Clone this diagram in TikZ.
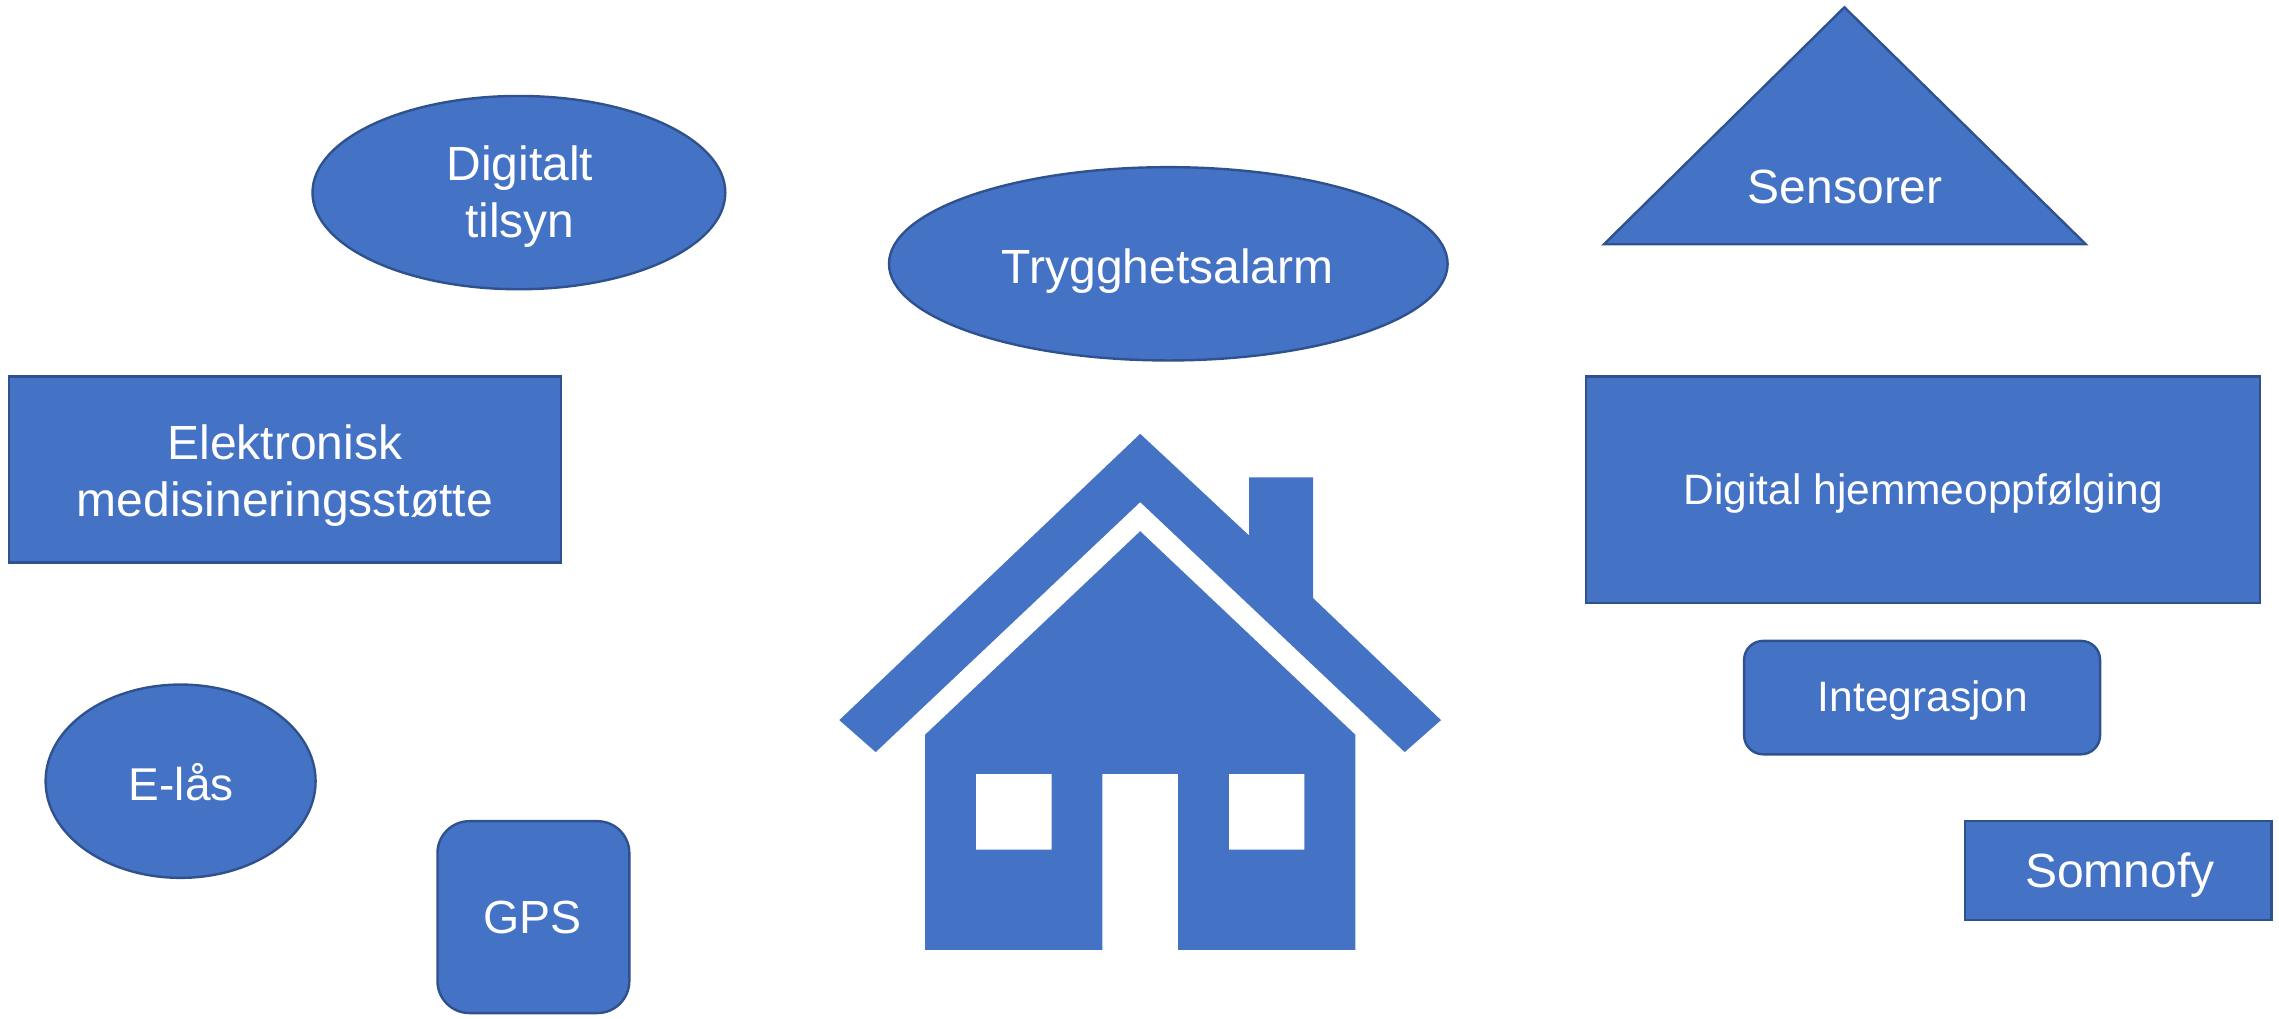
\documentclass[tikz,border=0pt]{standalone}
\usepackage{fontspec}
\setmainfont{Liberation Sans}
\usetikzlibrary{shapes.geometric}
\definecolor{shapefill}{HTML}{4472C4}
\definecolor{shapeline}{HTML}{2F528F}
\tikzset{
  shapebase/.style={draw=shapeline,fill=shapefill,line width=2.4pt,inner sep=0pt},
  oval/.style={shapebase,ellipse},
  box/.style={shapebase,rectangle},
  rbox/.style={shapebase,rectangle,rounded corners=#1},
  tri/.style={draw=shapeline,fill=shapefill,line width=2.4pt,line join=miter},
  caption/.style={text=white,inner sep=0pt,align=center,anchor=base,font=\fontsize{48}{57}\selectfont},
  smallcaption/.style={caption,font=\fontsize{42.5}{50}\selectfont},
  icon/.style={fill=shapefill,draw=none}
}
\begin{document}
\begin{tikzpicture}[x=1pt,y=-1pt]
\useasboundingbox (0,0) rectangle (2279,1018);
\node[oval,minimum width=412.8pt,minimum height=193.3pt] (tilsyn) at (518.9,192.6) {};
\node[oval,minimum width=558.6pt,minimum height=193.3pt] (alarm) at (1168.3,263.8) {};
\node[box,minimum width=552.3pt,minimum height=186pt] (medisin) at (284.9,469.4) {};
\node[box,minimum width=674.4pt,minimum height=226.7pt] (hjemme) at (1922.9,489.8) {};
\node[rbox=19pt,minimum width=356pt,minimum height=113.4pt] (integ) at (1922.1,697.6) {};
\node[box,minimum width=306.7pt,minimum height=98.8pt] (somno) at (2118.3,870.6) {};
\node[oval,minimum width=270pt,minimum height=193.3pt] (elas) at (180.6,781.2) {};
\node[rbox=32pt,minimum width=191.9pt,minimum height=191.9pt] (gps) at (533.4,917.1) {};
\draw[tri] (1844.4,7.3) -- (2085.7,244.2) -- (1604,244.2) -- cycle;
\node[caption] (ctilsyn) at (520,237.3) {Digitalt\\tilsyn};
\node[caption] (calarm) at (1167.8,283.3) {Trygghetsalarm};
\node[caption] (cmedisin) at (284.9,516) {Elektronisk\\medisineringsstøtte};
\node[caption] (csensor) at (1845.3,203.3) {Sensorer};
\node[smallcaption] (chjemme) at (1923.3,504) {Digital hjemmeoppfølging};
\node[smallcaption] (cinteg) at (1923,711.7) {Integrasjon};
\node[caption] (csomno) at (2119.7,887.3) {Somnofy};
\node[caption,font=\fontsize{46}{54}\selectfont] (celas) at (181.3,800) {E-lås};
\node[caption,font=\fontsize{46.5}{54}\selectfont] (cgps) at (532.8,933.3) {GPS};
% house icon
\begin{scope}[shift={(0.7,0.7)}]
\fill[icon] (1139.5,433.1) -- (1248.5,534.9) -- (1248.5,476.7) -- (1312.4,476.7) -- (1312.4,597.4)
  -- (1440.3,719.4) -- (1404,751.4) -- (1139.5,501.4) -- (875,751.4) -- (838.6,719.4) -- cycle;
\fill[icon,even odd rule] (1139.5,530.5) -- (1354.6,734) -- (1354.6,949.1) -- (1177.3,949.1) -- (1177.3,773.2)
  -- (1101.7,773.2) -- (1101.7,949.1) -- (924.4,949.1) -- (924.4,734) -- cycle
  (975.2,773.2) rectangle (1050.8,848.8)
  (1228.1,773.2) rectangle (1303.7,848.8);
\end{scope}
\end{tikzpicture}
\end{document}
